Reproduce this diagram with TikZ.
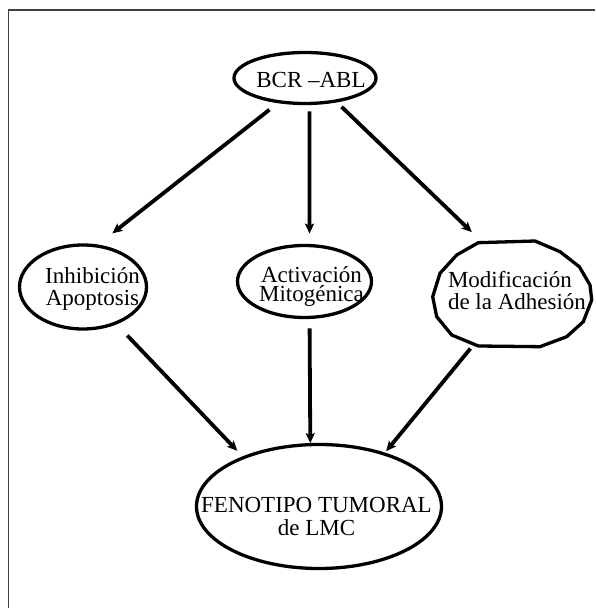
\documentclass[tikz,border=0pt]{standalone}
\usepackage{fontspec}
\setmainfont{Liberation Serif}
\usetikzlibrary{arrows.meta,shapes.geometric}
\setlength{\lineskiplimit}{-40pt}

\begin{document}
\begin{tikzpicture}[x=1pt,y=1pt,
  oval/.style={ellipse, draw, line width=3.3pt, inner sep=0pt, outer sep=0pt},
  lbl/.style={align=center, inner sep=0pt},
  arr/.style={-{Stealth[length=10pt,width=9pt,inset=2pt]}, line width=3.8pt},
  frameline/.style={draw=black!75, line width=1.3pt}]
\useasboundingbox (0,0) rectangle (595,608);

% page frame (top and left edges)
\draw[frameline] (8.3,0) -- (8.3,598) -- (595,598);

% nodes
\node[oval, minimum width=142pt, minimum height=51pt,
  label={[lbl, xshift=6pt, yshift=-2pt, font=\fontsize{23}{22}\selectfont]center:BCR –ABL}]
  (bcr) at (305,530) {};
\node[oval, minimum width=127pt, minimum height=84pt,
  label={[lbl, xshift=9.5pt, yshift=-2pt, font=\fontsize{23}{21.5}\selectfont]center:{Inhibición\\Apoptosis}}]
  (inh) at (83,321) {};
\node[oval, minimum width=134pt, minimum height=72pt,
  label={[lbl, xshift=7pt, yshift=-5pt, font=\fontsize{23}{19}\selectfont]center:{Activación\\Mitogénica}}]
  (act) at (304.5,326.5) {};
\node[ellipse, inner sep=0pt, outer sep=0pt, minimum width=160pt, minimum height=106pt,
  label={[lbl, align=left, xshift=5pt, yshift=3pt, font=\fontsize{23}{22}\selectfont]center:{Modificación\\de la Adhesión}}]
  (mod) at (512,314) {};
\node[oval, minimum width=245pt, minimum height=124pt,
  label={[lbl, xshift=-2.5pt, yshift=-10pt, font=\fontsize{23}{23.3}\selectfont]center:{FENOTIPO TUMORAL\\de LMC}}]
  (fen) at (319,101.5) {};

% polygonal outline of the adhesion node
\draw[line width=3.3pt, shift={(mod.center)}]
  (-33.7,51.3) -- (23,53) -- (48,42.3) -- (67.3,27.3) -- (78,9) -- (79.7,-6)
  -- (71.3,-27.7) -- (54.7,-42.7) -- (28,-52.7) -- (-33.7,-52) -- (-60.3,-41)
  -- (-75.3,-22.7) -- (-79.3,-2.7) -- (-72,20.7) -- (-55.3,39) -- cycle;

% connectors
\draw[arr, shorten <=12.8pt, shorten >=20.3pt] (bcr.223) -- (inh.72);
\draw[arr, shorten <=8pt, shorten >=12pt] (bcr.280) -- (act.82);
\draw[arr, shorten <=8.3pt, shorten >=17.5pt] (bcr.323) -- (mod.119);
\draw[arr, shorten <=17.1pt, shorten >=9.3pt] (inh.312) -- (fen.147);
\draw[arr, shorten <=11pt, shorten >=1.5pt] (act.278) -- (fen.98);
\draw[arr, shorten <=9.2pt, shorten >=3.5pt] (mod.233) -- (fen.39);
\end{tikzpicture}
\end{document}
